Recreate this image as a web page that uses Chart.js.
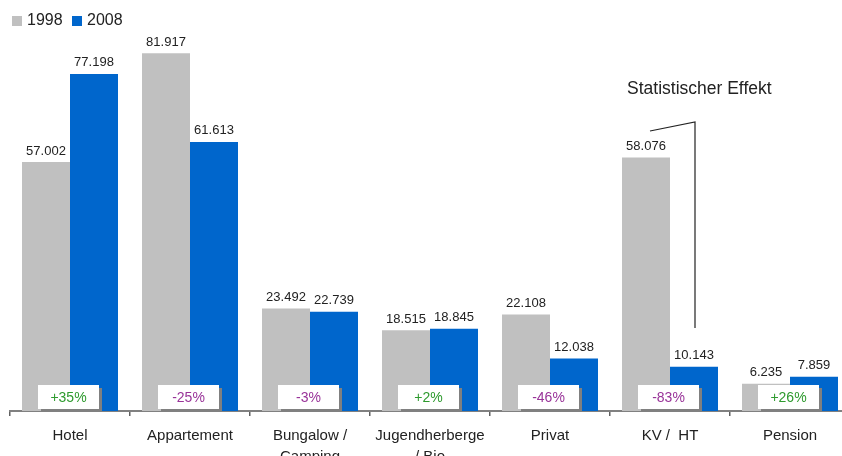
<!DOCTYPE html>
<html>
<head>
<meta charset="utf-8">
<script src="https://cdn.jsdelivr.net/npm/chart.js@4/dist/chart.umd.min.js"></script>
<style>
  html, body { margin: 0; padding: 0; background: #fff; overflow: hidden; }
  #wrap { width: 842px; height: 456px; overflow: hidden; }
</style>
</head>
<body>
<div id="wrap"><canvas id="chart" width="860" height="456"></canvas></div>
<script>
// ---- Daten: Übernachtungen nach Unterkunftsart ----
const categories = ['Hotel', 'Appartement', ['Bungalow /', 'Camping'], ['Jugendherberge', '/ Bio'], 'Privat', 'KV /  HT', 'Pension'];
const values1998 = [57002, 81917, 23492, 18515, 22108, 58076, 6235];
const values2008 = [77198, 61613, 22739, 18845, 12038, 10143, 7859];
const changes    = ['+35%', '-25%', '-3%', '+2%', '-46%', '-83%', '+26%'];
const yMax = 90000;

const FONT = "'Liberation Sans', Arial, sans-serif";
const GREY = '#C0C0C0';
const BLUE = '#0066CC';

// Werte über den Balken (deutsches Zahlenformat)
const valueLabels = {
  id: 'valueLabels',
  afterDatasetsDraw(chart) {
    const { ctx } = chart;
    ctx.save();
    ctx.font = '13px ' + FONT;
    ctx.fillStyle = '#222';
    ctx.textAlign = 'center';
    ctx.textBaseline = 'alphabetic';
    chart.data.datasets.forEach((ds, di) => {
      chart.getDatasetMeta(di).data.forEach((bar, i) => {
        ctx.fillText(ds.data[i].toLocaleString('de-DE'), bar.x, bar.y - 7.5);
      });
    });
    ctx.restore();
  }
};

// Veränderung in % als Kästchen mit Schatten am Fuß jeder Gruppe
const changeBoxes = {
  id: 'changeBoxes',
  afterDatasetsDraw(chart) {
    const { ctx, scales: { x } } = chart;
    const bottom = chart.chartArea.bottom;
    ctx.save();
    ctx.font = '14px ' + FONT;
    ctx.textAlign = 'center';
    ctx.textBaseline = 'middle';
    changes.forEach((txt, i) => {
      const cx = x.getPixelForValue(i);
      const w = 61, h = 24;
      const left = cx - 32, top = bottom - 26;
      ctx.fillStyle = '#808080';
      ctx.fillRect(left + 3, top + 3, w, h);
      ctx.fillStyle = '#fff';
      ctx.fillRect(left, top, w, h);
      ctx.fillStyle = txt.startsWith('+') ? '#2E9A2E' : '#993399';
      ctx.fillText(txt, left + w / 2, top + h / 2 + 1);
    });
    ctx.restore();
  }
};

// Legende oben links
const legendTopLeft = {
  id: 'legendTopLeft',
  afterDraw(chart) {
    const { ctx } = chart;
    ctx.save();
    ctx.font = '16px ' + FONT;
    ctx.textBaseline = 'middle';
    let xPos = 12;
    chart.data.datasets.forEach(ds => {
      ctx.fillStyle = ds.backgroundColor;
      ctx.fillRect(xPos, 16, 10, 10);
      ctx.fillStyle = '#222';
      ctx.fillText(ds.label, xPos + 15, 21);
      xPos += 60;
    });
    ctx.restore();
  }
};

// Hinweis "Statistischer Effekt" bei KV / HT
const effectNote = {
  id: 'effectNote',
  afterDraw(chart) {
    const { ctx, scales: { x } } = chart;
    const cx = x.getPixelForValue(5);
    ctx.save();
    ctx.strokeStyle = '#222';
    ctx.lineWidth = 1.2;
    ctx.beginPath();
    ctx.moveTo(cx - 20, 131);
    ctx.lineTo(cx + 25, 122);
    ctx.lineTo(cx + 25, 328);
    ctx.stroke();
    ctx.font = '17.5px ' + FONT;
    ctx.fillStyle = '#222';
    ctx.textBaseline = 'alphabetic';
    ctx.fillText('Statistischer Effekt', cx - 43, 93.5);
    ctx.restore();
  }
};

new Chart(document.getElementById('chart'), {
  type: 'bar',
  data: {
    labels: categories,
    datasets: [
      { label: '1998', data: values1998, backgroundColor: GREY, categoryPercentage: 0.8, barPercentage: 1.0 },
      { label: '2008', data: values2008, backgroundColor: BLUE, categoryPercentage: 0.8, barPercentage: 1.0 }
    ]
  },
  options: {
    responsive: false,
    animation: false,
    devicePixelRatio: 1,
    layout: { padding: { left: 10, right: 10, top: 18, bottom: 0 } },
    plugins: {
      legend: { display: false },
      tooltip: { enabled: false }
    },
    scales: {
      x: {
        grid: { drawOnChartArea: false, drawTicks: true, tickLength: 5, color: '#606060', lineWidth: 1.5 },
        border: { display: true, color: '#808080', width: 2 },
        ticks: { font: { family: FONT, size: 15, lineHeight: 1.4 }, color: '#222', padding: 9, maxRotation: 0, autoSkip: false },
        afterFit: scale => { scale.height = 45; }
      },
      y: { display: false, min: 0, max: yMax }
    }
  },
  plugins: [valueLabels, changeBoxes, legendTopLeft, effectNote]
});
</script>
</body>
</html>
